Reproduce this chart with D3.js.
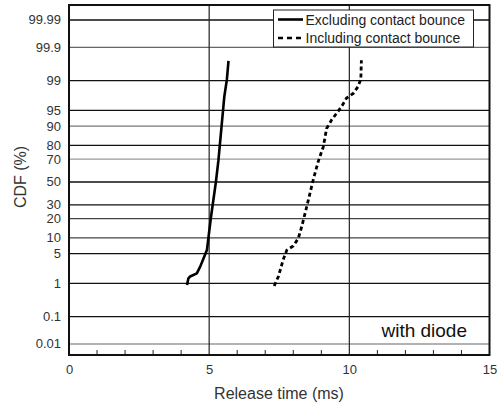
<!DOCTYPE html>
<html><head><meta charset="utf-8">
<script src="https://cdn.jsdelivr.net/npm/d3@7"></script>
<style>body{margin:0;background:#fff}svg{display:block;font-family:"Liberation Sans",Arial,sans-serif}</style>
</head><body><svg id="c" width="504" height="409"></svg>
<script>
// ---- data ----
const probTicks = [0.01, 0.1, 1, 5, 10, 20, 30, 50, 70, 80, 90, 95, 99, 99.9, 99.99];
const probTickLabels = ["0.01","0.1","1","5","10","20","30","50","70","80","90","95","99","99.9","99.99"];
const gridShade = ["#999","#111","#111","#111","#444","#444","#111","#111","#999","#111","#777","#111","#111","#666","#111"];
const xTicks = [0, 5, 10, 15];
const xMinor = [1,2,3,4,6,7,8,9,11,12,13,14];
const exclTime = [4.21, 4.26, 4.32, 4.56, 4.68, 4.78, 4.92, 5.06, 5.24, 5.33, 5.54, 5.63, 5.69];
const exclCdf  = [0.90, 1.35, 1.5, 1.8, 2.6, 3.7, 5.9, 20.4, 50, 69, 97.5, 99.04, 99.73];
const inclTime = [7.32, 7.47, 7.64, 7.77, 8.0, 8.18, 8.30, 8.48, 8.71, 8.89, 9.07, 9.19, 9.37, 9.72, 9.90, 10.14, 10.31, 10.41, 10.43];
const inclCdf  = [0.85, 1.5, 3.7, 5.9, 7.1, 9.8, 15.2, 28.5, 51.8, 68, 79, 89, 92.3, 95.8, 97.3, 97.9, 98.57, 99.08, 99.74];
const seriesNames = ["Excluding contact bounce", "Including contact bounce"];

// inverse normal CDF (Acklam) for probability axis
function probit(p){
  const a=[-3.969683028665376e+01,2.209460984245205e+02,-2.759285104469687e+02,1.383577518672690e+02,-3.066479806614716e+01,2.506628277459239e+00];
  const b=[-5.447609879822406e+01,1.615858368580409e+02,-1.556989798598866e+02,6.680131188771972e+01,-1.328068155288572e+01];
  const c=[-7.784894002430293e-03,-3.223964580411365e-01,-2.400758277161838e+00,-2.549732539343734e+00,4.374664141464968e+00,2.938163982698783e+00];
  const d=[7.784695709041462e-03,3.224671290700398e-01,2.445134137142996e+00,3.754408661907416e+00];
  const pl=0.02425, ph=1-pl; let q,r;
  if(p<pl){q=Math.sqrt(-2*Math.log(p));return (((((c[0]*q+c[1])*q+c[2])*q+c[3])*q+c[4])*q+c[5])/((((d[0]*q+d[1])*q+d[2])*q+d[3])*q+1);}
  if(p>ph){q=Math.sqrt(-2*Math.log(1-p));return -(((((c[0]*q+c[1])*q+c[2])*q+c[3])*q+c[4])*q+c[5])/((((d[0]*q+d[1])*q+d[2])*q+d[3])*q+1);}
  q=p-0.5;r=q*q;return (((((a[0]*r+a[1])*r+a[2])*r+a[3])*r+a[4])*r+a[5])*q/(((((b[0]*r+b[1])*r+b[2])*r+b[3])*r+b[4])*r+1);
}

const L=69, R=489.5, T=5, B=355;
const svg = d3.select("#c");
const x = d3.scaleLinear().domain([0,15]).range([L,R]);
const zs = d3.scaleLinear().domain([-3.972, 4.063]).range([B,T]);
const y = p => zs(probit(p/100));

// horizontal grid
svg.append("g").selectAll("line").data(probTicks).join("line")
  .attr("x1",L).attr("x2",R).attr("y1",d=>y(d)).attr("y2",d=>y(d))
  .attr("stroke",(d,i)=>gridShade[i]).attr("stroke-width",1.3);
// vertical grid
svg.append("g").selectAll("line").data([5,10]).join("line")
  .attr("x1",d=>x(d)).attr("x2",d=>x(d)).attr("y1",T).attr("y2",B)
  .attr("stroke","#222").attr("stroke-width",1.2);

// y labels
svg.append("g").selectAll("text").data(probTicks).join("text")
  .attr("x",61).attr("y",d=>y(d)+4.5).attr("text-anchor","end")
  .attr("font-size",13).attr("fill","#333").text((d,i)=>probTickLabels[i]);

// x axis via d3.axisBottom for labels
const xAxis = svg.append("g").attr("transform",`translate(0,${B})`)
  .call(d3.axisBottom(x).tickValues(xTicks).tickSize(0).tickPadding(10).tickFormat(d3.format("d")));
xAxis.select(".domain").remove();
xAxis.selectAll("text").attr("font-size",13).attr("fill","#333").attr("font-family","Liberation Sans, Arial, sans-serif");
// minor inward ticks
svg.append("g").selectAll("line").data(xMinor).join("line")
  .attr("x1",d=>x(d)).attr("x2",d=>x(d)).attr("y1",B).attr("y2",B-5)
  .attr("stroke","#222").attr("stroke-width",1);

// series lines
const line = d3.line().x(d=>x(d[0])).y(d=>y(d[1]));
svg.append("path").datum(exclTime.map((t,i)=>[t,exclCdf[i]]))
  .attr("d",line).attr("fill","none").attr("stroke","#000").attr("stroke-width",2.6).attr("stroke-linejoin","round");
svg.append("path").datum(inclTime.map((t,i)=>[t,inclCdf[i]]))
  .attr("d",line).attr("fill","none").attr("stroke","#000").attr("stroke-width",2.8).attr("stroke-dasharray","4,3");

// frame
svg.append("rect").attr("x",L).attr("y",T).attr("width",R-L).attr("height",B-T)
  .attr("fill","none").attr("stroke","#111").attr("stroke-width",2);

// legend
const lg = svg.append("g");
lg.append("rect").attr("x",273.5).attr("y",10).attr("width",200).attr("height",37)
  .attr("fill","#fff").attr("stroke","#222").attr("stroke-width",1);
seriesNames.forEach((n,i)=>{
  const yy = 19.5 + i*18.5;
  lg.append("line").attr("x1",278).attr("x2",303).attr("y1",yy).attr("y2",yy)
    .attr("stroke","#000").attr("stroke-width",2.6).attr("stroke-dasharray", i? "5,4":null);
  lg.append("text").attr("x",305.5).attr("y",yy+5).attr("font-size",14).attr("fill","#222").text(n);
});

// annotation
svg.append("text").attr("x",467).attr("y",337).attr("text-anchor","end")
  .attr("font-size",19).attr("fill","#111").text("with diode");

// axis titles
svg.append("text").attr("x",279).attr("y",399).attr("text-anchor","middle")
  .attr("font-size",16).attr("fill","#333").text("Release time (ms)");
svg.append("text").attr("transform","translate(26,177) rotate(-90)").attr("text-anchor","middle")
  .attr("font-size",16).attr("fill","#333").text("CDF (%)");
</script></body></html>
